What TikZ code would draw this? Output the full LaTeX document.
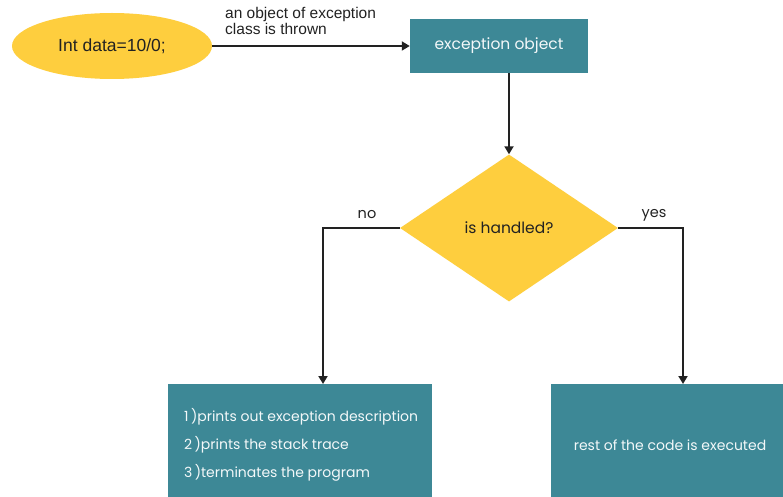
\documentclass[tikz,border=0pt]{standalone}
\usepackage{fontspec}
\setmainfont{Poppins}
\newfontfamily\lab{Liberation Sans}
\usetikzlibrary{shapes.geometric,arrows.meta}
\definecolor{teal1}{HTML}{3D8896}
\definecolor{yel}{HTML}{FECE3E}
\definecolor{ink}{HTML}{222222}
\tikzset{
  conn/.style={draw=ink, line width=1.8pt, -{Triangle[length=8pt,width=9pt]}},
  tealbox/.style={fill=teal1, draw=none, text=white, inner sep=0pt},
  boxtxt/.style={text=white!94!teal1, font=\fontsize{14}{16}\selectfont, inner sep=0pt},
  lbl/.style={text=ink, inner sep=0pt}
}
\begin{document}
\begin{tikzpicture}[x=1pt,y=-1pt]
\useasboundingbox (0,0) rectangle (783,497);
\clip (0,0) rectangle (783,497);
\fill[white] (0,0) rectangle (783,497);
\node[ellipse, fill=yel, minimum width=200pt, minimum height=66pt, inner sep=0pt,
  text=ink, font=\lab\fontsize{17.5}{19}\selectfont] (start) at (112,46) {Int data=10/0;};
\node[tealbox, minimum width=178pt, minimum height=54pt, text=white!94!teal1, font=\fontsize{15.5}{17}\selectfont] (exc) at (499,46) {exception object};
\node[diamond, fill=yel, minimum width=218pt, minimum height=147pt, inner sep=0pt, aspect=1.48,
  text=ink, font=\fontsize{15.5}{17}\selectfont] (dec) at (509,228) {is handled?};
\node[tealbox, minimum width=264pt, minimum height=140pt, anchor=north west] (no) at (168,384) {};
\node[tealbox, minimum width=240pt, minimum height=140pt, anchor=north west] (yes) at (551,384) {};
\node[boxtxt, anchor=west] (l1) at (184,417) {1\,)prints out exception description};
\node[boxtxt, anchor=west] (l2) at (184,445) {2\,)prints the stack trace};
\node[boxtxt, anchor=west] (l3) at (184,473) {3\,)terminates the program};
\node[boxtxt] (l4) at (670,445) {rest of the code is executed};
\node[lbl, font=\lab\fontsize{15.5}{16}\selectfont, anchor=base west] (thr1) at (225,19) {an object of exception};
\node[lbl, font=\lab\fontsize{15.5}{16}\selectfont, anchor=base west] (thr2) at (225,35) {class is thrown};
\coordinate (nocorner) at (323,228);
\coordinate (yescorner) at (683,228);
\coordinate (notop) at (323,384);
\coordinate (yestop) at (683,384);
\draw[conn] (start.east) -- (exc.west);
\draw[conn] (exc.south -| dec.north) -- (dec.north);
\draw[conn] (dec.west) -- (nocorner) -- (notop);
\draw[conn] (dec.east) -- (yescorner) -- (yestop);
\node[lbl, font=\fontsize{14.5}{16}\selectfont] (nolab) at (367,215) {no};
\node[lbl, font=\fontsize{14.5}{16}\selectfont] (yeslab) at (654,215) {yes};
\end{tikzpicture}
\end{document}
